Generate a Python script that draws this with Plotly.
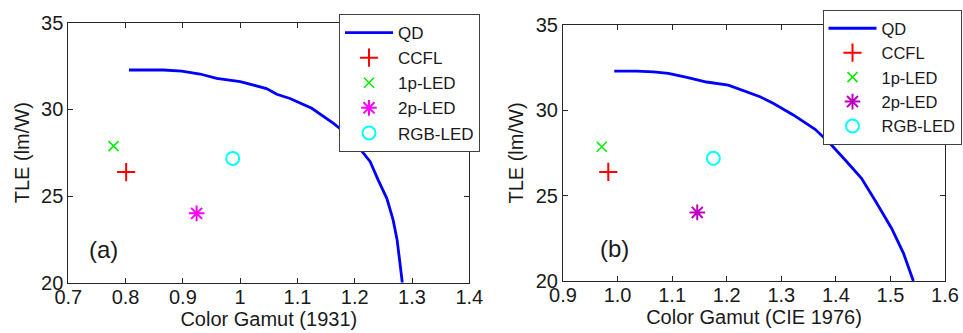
import plotly.graph_objects as go

# ---------------- data ----------------
qd_a_x = [0.806, 0.866, 0.898, 0.930, 0.959, 1.000, 1.046, 1.064, 1.087, 1.125,
          1.163, 1.174, 1.206, 1.227, 1.241, 1.256, 1.267, 1.274, 1.279, 1.283]
qd_a_y = [32.27, 32.27, 32.21, 32.04, 31.79, 31.60, 31.20, 30.87, 30.63, 30.06,
          29.19, 28.90, 27.85, 26.98, 25.92, 24.87, 23.62, 22.46, 21.12, 20.00]

qd_b_x = [0.994, 1.035, 1.066, 1.093, 1.127, 1.163, 1.203, 1.231, 1.261, 1.285,
          1.322, 1.362, 1.389, 1.420, 1.447, 1.475, 1.502, 1.524, 1.542]
qd_b_y = [32.30, 32.30, 32.25, 32.17, 31.93, 31.66, 31.48, 31.15, 30.80, 30.41,
          29.73, 28.89, 28.07, 26.99, 26.02, 24.55, 23.09, 21.62, 20.00]

point_names = ["CCFL", "1p-LED", "2p-LED", "RGB-LED"]
points_a_x = [0.801, 0.779, 0.924, 0.987]
points_a_y = [26.38, 27.88, 24.00, 27.17]
points_b_x = [0.983, 0.971, 1.146, 1.1755]
points_b_y = [26.39, 27.87, 24.02, 27.19]

x_ticks_a = [0.7, 0.8, 0.9, 1.0, 1.1, 1.2, 1.3, 1.4]
x_labels_a = ["0.7", "0.8", "0.9", "1", "1.1", "1.2", "1.3", "1.4"]
x_ticks_b = [0.9, 1.0, 1.1, 1.2, 1.3, 1.4, 1.5, 1.6]
x_labels_b = ["0.9", "1.0", "1.1", "1.2", "1.3", "1.4", "1.5", "1.6"]
y_ticks = [20, 25, 30, 35]

# ---------------- styles ----------------
FONT = "Arial, Liberation Sans, sans-serif"
GREEN = "#00ee00"
marker_styles_a = [
    dict(symbol="cross-thin", size=13, color="#ff0000", line=dict(color="#ff0000", width=2)),
    dict(symbol="x-thin", size=10, color=GREEN, line=dict(color=GREEN, width=1.5)),
    dict(symbol="asterisk", size=13, color="#ff00ff", line=dict(color="#ff00ff", width=2)),
    dict(symbol="circle-open", size=13, color="#00ffff", line=dict(color="#00ffff", width=2)),
]
marker_styles_b = [
    dict(symbol="cross-thin", size=13, color="#ff0000", line=dict(color="#ff0000", width=2)),
    dict(symbol="x-thin", size=10, color=GREEN, line=dict(color=GREEN, width=1.5)),
    dict(symbol="asterisk", size=13, color="#bf00bf", line=dict(color="#bf00bf", width=2)),
    dict(symbol="circle-open", size=13, color="#00ffff", line=dict(color="#00ffff", width=2)),
]

fig = go.Figure()

fig.add_trace(go.Scatter(x=qd_a_x, y=qd_a_y, mode="lines", name="QD",
                         line=dict(color="#0000ff", width=2.8),
                         xaxis="x", yaxis="y", legend="legend", legendgroup="a0"))
for i, n in enumerate(point_names):
    fig.add_trace(go.Scatter(x=[points_a_x[i]], y=[points_a_y[i]], mode="markers", name=n,
                             marker=marker_styles_a[i], xaxis="x", yaxis="y",
                             legend="legend", legendgroup="a%d" % (i + 1)))

fig.add_trace(go.Scatter(x=qd_b_x, y=qd_b_y, mode="lines", name="QD",
                         line=dict(color="#0000ff", width=2.8),
                         xaxis="x2", yaxis="y2", legend="legend2", legendgroup="b0"))
for i, n in enumerate(point_names):
    fig.add_trace(go.Scatter(x=[points_b_x[i]], y=[points_b_y[i]], mode="markers", name=n,
                             marker=marker_styles_b[i], xaxis="x2", yaxis="y2",
                             legend="legend2", legendgroup="b%d" % (i + 1)))

W, H = 963, 333


def px_x(p):
    return p / W


def px_y(p):
    return 1 - p / H


axis_common = dict(showgrid=False, zeroline=False, showline=True, linecolor="#262626",
                   linewidth=1, mirror="ticks", ticks="inside", ticklen=5,
                   tickcolor="#262626", tickfont=dict(family=FONT, size=20, color="#1a1a1a"))

legend_common = dict(xanchor="left", yanchor="top", bgcolor="white",
                     bordercolor="#404040", borderwidth=1,
                     tracegroupgap=0, itemwidth=48)

fig.update_layout(
    width=W, height=H,
    margin=dict(l=0, r=0, t=0, b=0, autoexpand=False),
    paper_bgcolor="white", plot_bgcolor="white",
    font=dict(family=FONT, color="#1a1a1a"),
    xaxis=dict(domain=[px_x(68.3), px_x(469.3)], range=[0.7, 1.4], tickvals=x_ticks_a,
               ticktext=x_labels_a, anchor="y", ticklabelstandoff=-4,
               title=dict(text="Color Gamut (1931)", font=dict(size=20, family=FONT), standoff=3),
               **axis_common),
    yaxis=dict(domain=[px_y(282.7), px_y(22.7)], range=[20, 35], tickvals=y_ticks,
               anchor="x", ticklabelstandoff=0,
               title=dict(text="TLE (lm/W)", font=dict(size=20, family=FONT), standoff=6),
               **axis_common),
    xaxis2=dict(domain=[px_x(563), px_x(945)], range=[0.9, 1.6], tickvals=x_ticks_b,
                ticktext=x_labels_b, anchor="y2", ticklabelstandoff=-4,
                title=dict(text="Color Gamut (CIE 1976)", font=dict(size=20, family=FONT), standoff=3),
                **axis_common),
    yaxis2=dict(domain=[px_y(281), px_y(25)], range=[20, 35], tickvals=y_ticks,
                anchor="x2", ticklabelstandoff=0,
                title=dict(text="TLE (lm/W)", font=dict(size=20, family=FONT), standoff=6),
                **axis_common),
    legend=dict(x=px_x(339), y=px_y(14), font=dict(family=FONT, size=17, color="#1a1a1a"),
                **legend_common),
    legend2=dict(x=px_x(822.5), y=px_y(10), font=dict(family=FONT, size=16.5, color="#1a1a1a"),
                 **legend_common),
    annotations=[
        dict(text="(a)", x=0.762, y=21.9, xref="x", yref="y", showarrow=False,
             font=dict(family=FONT, size=24, color="#1a1a1a")),
        dict(text="(b)", x=0.995, y=21.9, xref="x2", yref="y2", showarrow=False,
             font=dict(family=FONT, size=24, color="#1a1a1a")),
    ],
)

fig.write_html(
    "out.html",
    config={"displayModeBar": False},
    post_script="document.body.style.margin='0';document.body.style.overflow='hidden';",
)
